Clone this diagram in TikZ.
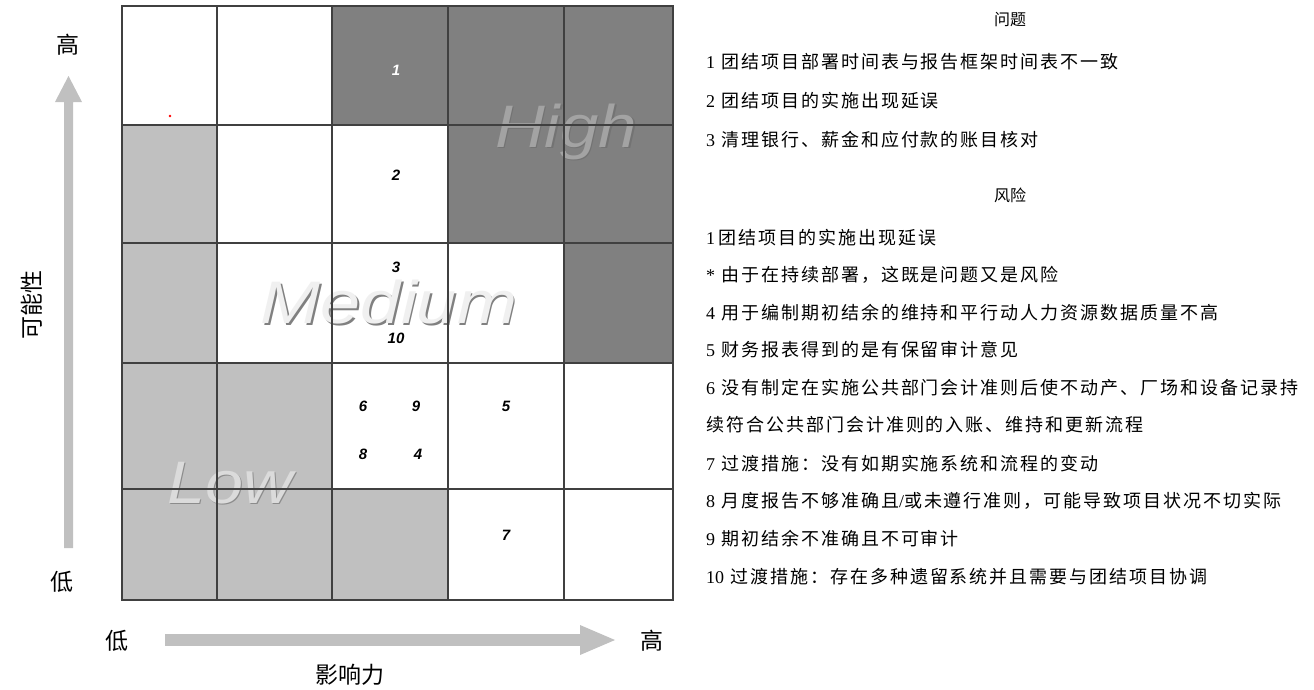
\documentclass[tikz,border=0pt]{standalone}
\usepackage{fontspec}
\setmainfont{Liberation Serif}
\setsansfont{Liberation Sans}
\newfontfamily\cjk{Noto Sans CJK SC}
\newfontfamily\cjkls{Noto Sans CJK SC}[LetterSpace=11]
\definecolor{darkcell}{HTML}{808080}
\definecolor{lightcell}{HTML}{C0C0C0}
\definecolor{gridline}{HTML}{404040}
\definecolor{axisgray}{HTML}{C0C0C0}
\newcommand{\zh}[1]{{\cjkls #1}}
\tikzset{
  num/.style={font=\sffamily\bfseries\itshape\fontsize{15}{15}\selectfont, inner sep=0pt},
  item/.style={anchor=west, inner sep=0pt, font=\fontsize{18}{18}\selectfont},
  head/.style={inner sep=0pt, font=\cjk\fontsize{16}{16}\selectfont},
  axislabel/.style={inner sep=0pt, font=\cjk\fontsize{23}{23}\selectfont},
  wmark/.style={inner sep=0pt, anchor=base, text depth=0pt, font=\sffamily\itshape\fontsize{60}{60}\selectfont},
  cell/.style={draw=none}
}
\begin{document}
\begin{tikzpicture}[x=1pt,y=-1pt]
\useasboundingbox (0,0) rectangle (1314,689);
\fill[white] (0,0) rectangle (1314,689);
% column and row boundaries
\def\xa{122}\def\xb{217}\def\xc{332}\def\xd{448}\def\xe{564}\def\xf{673}
\def\ya{6}\def\yb{125}\def\yc{243}\def\yd{363}\def\ye{489}\def\yf{600}
% row 1
\fill[darkcell] (\xc,\ya) rectangle (\xf,\yb);
% row 2
\fill[lightcell] (\xa,\yb) rectangle (\xb,\yc);
\fill[darkcell] (\xd,\yb) rectangle (\xf,\yc);
% row 3
\fill[lightcell] (\xa,\yc) rectangle (\xb,\yd);
\fill[darkcell] (\xe,\yc) rectangle (\xf,\yd);
% row 4
\fill[lightcell] (\xa,\yd) rectangle (\xc,\ye);
% row 5
\fill[lightcell] (\xa,\ye) rectangle (\xd,\yf);
% watermark labels
\node[wmark, text=black!55, xscale=1.15] at (567.5,148.5) {High};
\node[wmark, text=black!36, xscale=1.15] (high) at (566,147) {High};
\node[wmark, text=black!50, xscale=1.2] at (390.5,325) {Medium};
\node[wmark, text=black!6, xscale=1.2] (medium) at (389,323.5) {Medium};
\node[wmark, text=black!45, xscale=1.14] at (231.5,504.5) {Low};
\node[wmark, text=black!14, xscale=1.14] (low) at (230,503) {Low};
% grid lines
\draw[gridline, line width=1.3pt]
  (\xa,\ya) rectangle (\xf,\yf)
  (\xb,\ya) -- (\xb,\yf) (\xc,\ya) -- (\xc,\yf) (\xd,\ya) -- (\xd,\yf) (\xe,\ya) -- (\xe,\yf)
  (\xa,\yb) -- (\xf,\yb) (\xa,\yc) -- (\xf,\yc) (\xa,\yd) -- (\xf,\yd) (\xa,\ye) -- (\xf,\ye);
% red dot
\fill[red] (170,116) circle (1.3);
% numbers
\node[num, text=white] (n1) at (396,70) {1};
\node[num] (n2) at (396,175) {2};
\node[num] (n3) at (396,267) {3};
\node[num] (n10) at (396,338) {10};
\node[num] (n6) at (363,406) {6};
\node[num] (n9) at (416,406) {9};
\node[num] (n5) at (506,406) {5};
\node[num] (n8) at (363,454) {8};
\node[num] (n4) at (418,454) {4};
\node[num] (n7) at (506,535) {7};
% axes
\fill[axisgray] (64,548) rectangle (73,102) -- (55,102) -- (68.5,76) -- (82,102) -- (73,102);
\fill[axisgray] (165,634) rectangle (581,646);
\fill[axisgray] (580,625) -- (615,640) -- (580,655) -- cycle;
\node[axislabel] (yhigh) at (68,45) {高};
\node[axislabel] (ylow) at (62,582) {低};
\node[axislabel, rotate=90] (ylab) at (32,305) {可能性};
\node[axislabel] (xlow) at (117,641) {低};
\node[axislabel] (xhigh) at (652,641) {高};
\node[axislabel] (xlab) at (350,675) {影响力};
% text column
\node[head] (h1) at (1010,20) {问题};
\node[item] (t1) at (706,62) {1\hspace{6pt}\zh{团结项目部署时间表与报告框架时间表不一致}};
\node[item] (t2) at (706,101) {2\hspace{6pt}\zh{团结项目的实施出现延误}};
\node[item] (t3) at (706,140) {3\hspace{6pt}\zh{清理银行、薪金和应付款的账目核对}};
\node[head] (h2) at (1010,195) {风险};
\node[item] (r1) at (706,238) {1\hspace{3pt}\zh{团结项目的实施出现延误}};
\node[item] (r2) at (706,275) {*\hspace{6pt}\zh{由于在持续部署，这既是问题又是风险}};
\node[item] (r4) at (706,313) {4\hspace{6pt}\zh{用于编制期初结余的维持和平行动人力资源数据质量不高}};
\node[item] (r5) at (706,350) {5\hspace{6pt}\zh{财务报表得到的是有保留审计意见}};
\node[item] (r6) at (706,388) {6\hspace{6pt}\zh{没有制定在实施公共部门会计准则后使不动产、厂场和设备记录持}};
\node[item] (r6b) at (706,425) {\zh{续符合公共部门会计准则的入账、维持和更新流程}};
\node[item] (r7) at (706,464) {7\hspace{6pt}\zh{过渡措施：没有如期实施系统和流程的变动}};
\node[item] (r8) at (706,501) {8\hspace{6pt}\zh{月度报告不够准确且}/\zh{或未遵行准则，可能导致项目状况不切实际}};
\node[item] (r9) at (706,539) {9\hspace{6pt}\zh{期初结余不准确且不可审计}};
\node[item] (r10) at (706,577) {10\hspace{6pt}\zh{过渡措施：存在多种遗留系统并且需要与团结项目协调}};
\end{tikzpicture}
\end{document}
